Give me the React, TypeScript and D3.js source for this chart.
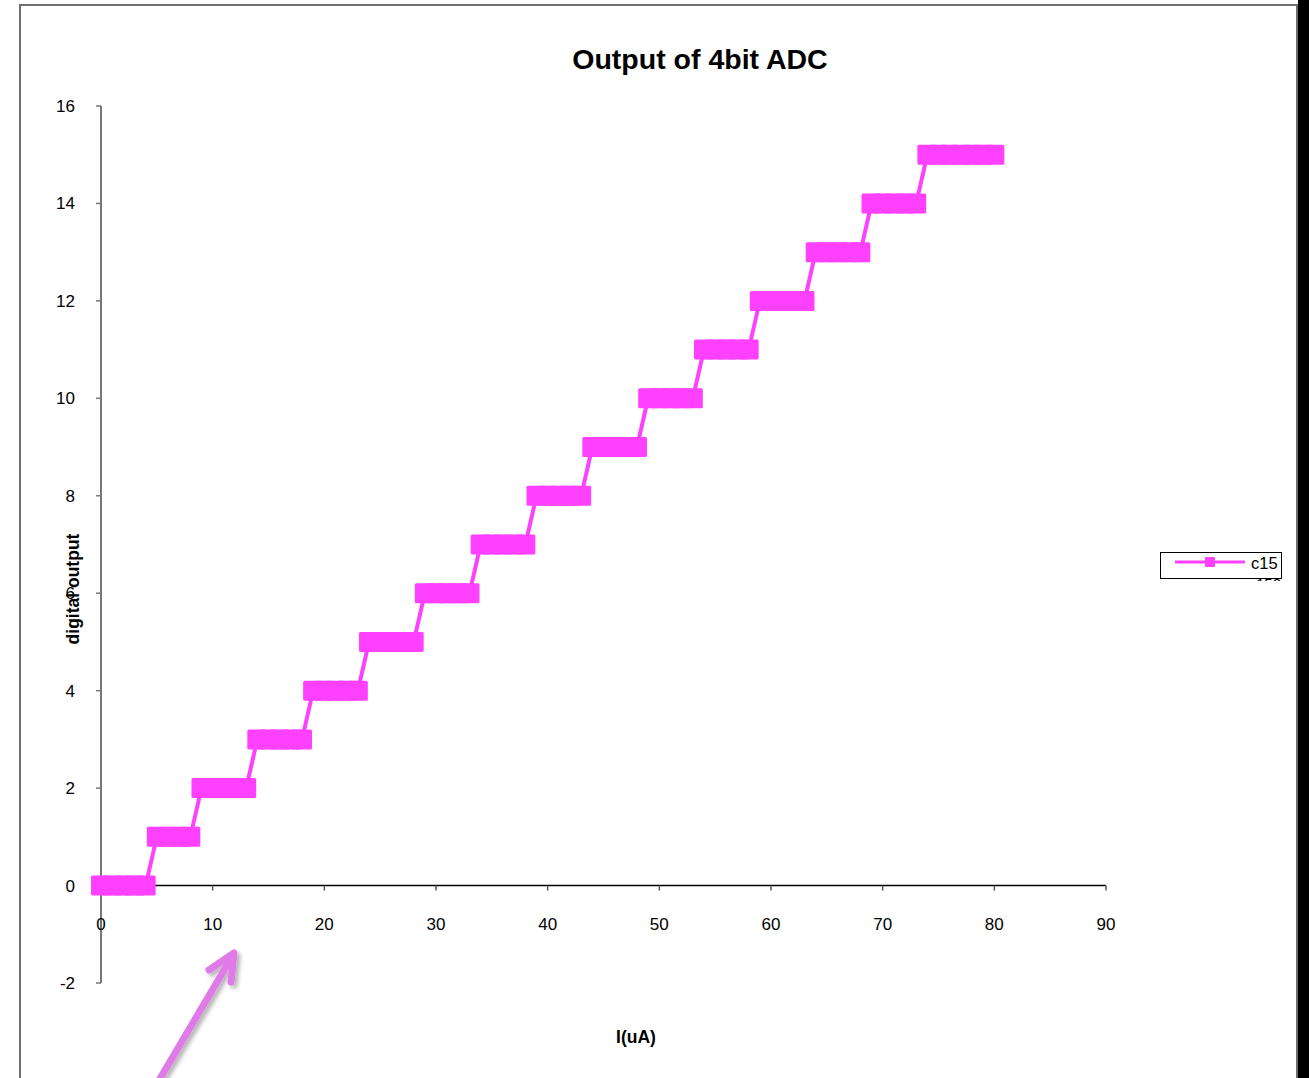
import React from "react";
import * as d3 from "d3";

// Input current sweep (uA) and the ADC code read at each step
const currentUA: number[] = [
  0, 1, 2, 3, 4, 5, 6, 7, 8, 9, 10, 11, 12, 13, 14, 15, 16, 17, 18, 19, 20,
  21, 22, 23, 24, 25, 26, 27, 28, 29, 30, 31, 32, 33, 34, 35, 36, 37, 38, 39, 40,
  41, 42, 43, 44, 45, 46, 47, 48, 49, 50, 51, 52, 53, 54, 55, 56, 57, 58, 59, 60,
  61, 62, 63, 64, 65, 66, 67, 68, 69, 70, 71, 72, 73, 74, 75, 76, 77, 78, 79, 80,
];
const c15: number[] = [
  0, 0, 0, 0, 0, 1, 1, 1, 1, 2, 2, 2, 2, 2, 3, 3, 3, 3, 3, 4, 4,
  4, 4, 4, 5, 5, 5, 5, 5, 6, 6, 6, 6, 6, 7, 7, 7, 7, 7, 8, 8,
  8, 8, 8, 9, 9, 9, 9, 9, 10, 10, 10, 10, 10, 11, 11, 11, 11, 11, 12, 12,
  12, 12, 12, 13, 13, 13, 13, 13, 14, 14, 14, 14, 14, 15, 15, 15, 15, 15, 15, 15,
];
const xTicks: number[] = [0, 10, 20, 30, 40, 50, 60, 70, 80, 90];
const yTicks: number[] = [-2, 0, 2, 4, 6, 8, 10, 12, 14, 16];

const W = 1309;
const H = 1078;
const MAGENTA = "#FF40FF";
const FONT = "Arial, 'Liberation Sans', Helvetica, sans-serif";

export default function App() {
  const x = d3.scaleLinear().domain([0, 90]).range([101, 1106]);
  const y = d3.scaleLinear().domain([-2, 16]).range([983, 106]);
  const pts = currentUA.map((v, i) => [v, c15[i]] as [number, number]);
  const line = d3
    .line<[number, number]>()
    .x((d) => x(d[0]))
    .y((d) => y(d[1]));
  const ms = 20;

  return (
    <svg
      width={W}
      height={H}
      style={{ position: "absolute", left: 0, top: 0, background: "#fff" }}
      fontFamily={FONT}
    >
      <defs>
        <clipPath id="legendClip">
          <rect x={1160} y={552} width={122} height={29} />
        </clipPath>
        <filter id="arrowShadow" x="-50%" y="-50%" width="200%" height="200%">
          <feGaussianBlur in="SourceAlpha" stdDeviation="2" />
          <feOffset dx="3" dy="3" result="off" />
          <feComponentTransfer>
            <feFuncA type="linear" slope="0.3" />
          </feComponentTransfer>
          <feMerge>
            <feMergeNode />
            <feMergeNode in="SourceGraphic" />
          </feMerge>
        </filter>
      </defs>

      {/* chart area frame */}
      <rect x={0} y={0} width={W} height={H} fill="#fff" />
      <polyline
        points={`20,${H + 5} 20,5 1297,5 1297,${H + 5}`}
        fill="none"
        stroke="#6e6e6e"
        strokeWidth={2}
      />
      <rect x={1298} y={0} width={11} height={H} fill="#000" />

      {/* title */}
      <text
        x={700}
        y={69}
        textAnchor="middle"
        fontSize={28.5}
        fontWeight="bold"
        fill="#000"
      >
        Output of 4bit ADC
      </text>

      {/* y axis */}
      <line x1={x(0)} x2={x(0)} y1={y(16)} y2={y(-2)} stroke="#777" strokeWidth={2} />
      {yTicks.map((t) => (
        <g key={`yt${t}`}>
          <line x1={x(0) - 5} x2={x(0)} y1={y(t)} y2={y(t)} stroke="#777" strokeWidth={1.5} />
          <text
            x={75}
            y={y(t)}
            dy="0.35em"
            textAnchor="end"
            fontSize={17}
            fill="#000"
          >
            {t}
          </text>
        </g>
      ))}

      {/* x axis */}
      <line x1={x(0)} x2={x(90)} y1={y(0)} y2={y(0)} stroke="#000" strokeWidth={1.5} />
      {xTicks.map((t) => (
        <g key={`xt${t}`}>
          <line x1={x(t)} x2={x(t)} y1={y(0)} y2={y(0) + 5} stroke="#555" strokeWidth={1.5} />
          <text
            x={x(t)}
            y={924}
            dy="0.35em"
            textAnchor="middle"
            fontSize={17}
            fill="#000"
          >
            {t}
          </text>
        </g>
      ))}

      {/* axis titles */}
      <text
        transform={`translate(79,589) rotate(-90)`}
        textAnchor="middle"
        fontSize={17.5}
        fontWeight="bold"
        fill="#000"
      >
        digital output
      </text>
      <text x={636} y={1043} textAnchor="middle" fontSize={17.5} fontWeight="bold" fill="#000">
        I(uA)
      </text>

      {/* series c15 */}
      <path d={line(pts) || ""} fill="none" stroke={MAGENTA} strokeWidth={4} />
      {pts.map((d, i) => (
        <rect
          key={`m${i}`}
          x={x(d[0]) - ms / 2}
          y={y(d[1]) - ms / 2}
          width={ms}
          height={ms}
          rx={1.5}
          fill={MAGENTA}
        />
      ))}

      {/* legend */}
      <rect x={1160.5} y={552.5} width={121} height={26} fill="#fff" stroke="#000" strokeWidth={1} />
      <g clipPath="url(#legendClip)">
        <line x1={1175} x2={1245} y1={562} y2={562} stroke={MAGENTA} strokeWidth={3} />
        <rect x={1205} y={557} width={10} height={10} rx={1} fill={MAGENTA} />
        <text x={1251} y={569} fontSize={16.5} fill="#000">
          c15
        </text>
        <text x={1256} y={589} fontSize={15} fill="#000">
          150
        </text>
      </g>

      {/* annotation arrow */}
      <g
        filter="url(#arrowShadow)"
        stroke="#E07AE6"
        strokeWidth={7}
        strokeLinecap="round"
        strokeLinejoin="round"
        fill="none"
      >
        <line x1={158} y1={1082} x2={233} y2={955} />
        <polyline points="209,970 234,953 231,982" />
      </g>
    </svg>
  );
}
